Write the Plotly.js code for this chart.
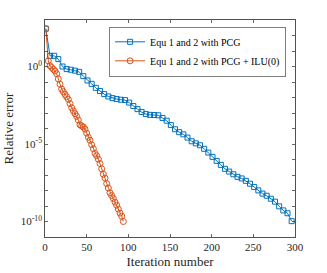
<!DOCTYPE html>
<html>
<head>
<meta charset="utf-8">
<script src="https://cdn.plot.ly/plotly-3.0.1.min.js"></script>
<style>html,body{margin:0;padding:0;background:#fff;}#chart{width:327px;height:273px;}</style>
</head>
<body>
<div id="chart"></div>
<script>
// Series 1: Equ 1 and 2 with PCG
const pcgIter = [1,6,11,16,21,26,31,36,41,46,51,56,61,66,71,76,81,86,91,96,101,106,111,116,121,126,131,136,141,146,151,156,161,166,171,176,181,186,191,196,201,206,211,216,221,226,231,236,241,246,251,256,261,266,271,276,281,286,291,296];
const pcgErr = [275,4.9,4.9,3.0,1.0,0.68,0.62,0.54,0.45,0.24,0.126,0.076,0.042,0.026,0.0166,0.0117,0.0091,0.0079,0.0072,0.0068,0.0047,0.0028,0.00178,0.00115,8.5e-4,7.6e-4,7.4e-4,7.1e-4,4.8e-4,3.2e-4,1.66e-4,8.9e-5,5.8e-5,4.2e-5,2.6e-5,1.5e-5,1.1e-5,8.3e-6,4.9e-6,2.8e-6,1.48e-6,8.1e-7,4.5e-7,2.5e-7,1.66e-7,1.12e-7,7.6e-8,6.0e-8,4.2e-8,2.75e-8,1.66e-8,1.02e-8,6.3e-9,4.6e-9,2.95e-9,1.9e-9,9.5e-10,5.2e-10,3.4e-10,1.05e-10];

// Series 2: Equ 1 and 2 with PCG + ILU(0)
const iluIter = [1,4,6,8,10,12,14,16,18,20,22,24,26,28,30,32,34,36,38,40,42,44,46,48,50,52,54,56,58,60,62,64,66,68,70,72,74,76,78,80,82,84,86,88,90,92,94];
const iluErr = [275,2.3,1.12,0.87,0.66,0.52,0.34,0.158,0.071,0.035,0.024,0.0158,0.011,0.0076,0.004,0.0022,0.00138,9.1e-4,6.0e-4,3.5e-4,1.74e-4,1.45e-4,1.26e-4,9.1e-5,5.0e-5,2.7e-5,1.74e-5,8.9e-6,5.0e-6,2.5e-6,1.74e-6,1.05e-6,5.5e-7,2.5e-7,1.12e-7,6.3e-8,2.8e-8,1.45e-8,7.1e-9,4.7e-9,3.0e-9,1.78e-9,1.12e-9,6.3e-10,3.5e-10,2.2e-10,1.0e-10];

// Axis ticks
const xTicks = [0,50,100,150,200,250,300];
const yTickVals = [1e0,1e-5,1e-10];
const yTickText = ['10<sup>0</sup>','10<sup>-5</sup>','10<sup>-10</sup>'];
const yMinorVals = [1e3,1e2,1e1,1e-1,1e-2,1e-3,1e-4,1e-6,1e-7,1e-8,1e-9,1e-11];

const names = ['Equ 1 and 2 with PCG','Equ 1 and 2 with PCG + ILU(0)'];
const colors = ['#0072BD','#D95319'];
const fontFam = '"Liberation Serif", "Times New Roman", serif';

const traces = [
  {x: pcgIter, y: pcgErr, name: names[0], type: 'scatter', mode: 'lines+markers',
   line: {color: colors[0], width: 1},
   marker: {symbol: 'square-open', size: 5, color: colors[0], line: {width: 1, color: colors[0]}}},
  {x: iluIter, y: iluErr, name: names[1], type: 'scatter', mode: 'lines+markers',
   line: {color: colors[1], width: 1},
   marker: {symbol: 'circle-open', size: 6, color: colors[1], line: {width: 1, color: colors[1]}}}
];

const axisCommon = {
  showline: true, linecolor: '#262626', linewidth: 0.8, mirror: 'ticks',
  ticks: 'inside', ticklen: 3, tickwidth: 0.7, tickcolor: '#262626',
  showgrid: false, zeroline: false,
  tickfont: {family: fontFam, size: 11, color: '#262626'}
};

const layout = {
  width: 327, height: 273,
  margin: {l: 45, r: 32, t: 20, b: 36},
  paper_bgcolor: '#fff', plot_bgcolor: '#fff',
  font: {family: fontFam, color: '#262626'},
  showlegend: true,
  legend: {x: 0.962, y: 0.969, xanchor: 'right', yanchor: 'top',
    bgcolor: '#fff', bordercolor: '#262626', borderwidth: 0.6,
    font: {family: fontFam, size: 10, color: '#000'},
    tracegroupgap: 0, itemwidth: 30},
  xaxis: Object.assign({}, axisCommon, {
    range: [0, 300], tickvals: xTicks, ticktext: xTicks.map(String),
    title: {text: 'Iteration number', font: {family: fontFam, size: 13, color: '#262626'}, standoff: 4}
  }),
  yaxis: Object.assign({}, axisCommon, {
    type: 'log', range: [-11, 3], tickvals: yTickVals, ticktext: yTickText,
    minor: {tickmode: 'array', tickvals: yMinorVals, ticks: 'inside', ticklen: 3, tickwidth: 0.7, tickcolor: '#262626', showgrid: false},
    title: {text: 'Relative error', font: {family: fontFam, size: 13, color: '#262626'}, standoff: 4}
  })
};

Plotly.newPlot('chart', traces, layout, {displayModeBar: false, staticPlot: true});
</script>
</body>
</html>
